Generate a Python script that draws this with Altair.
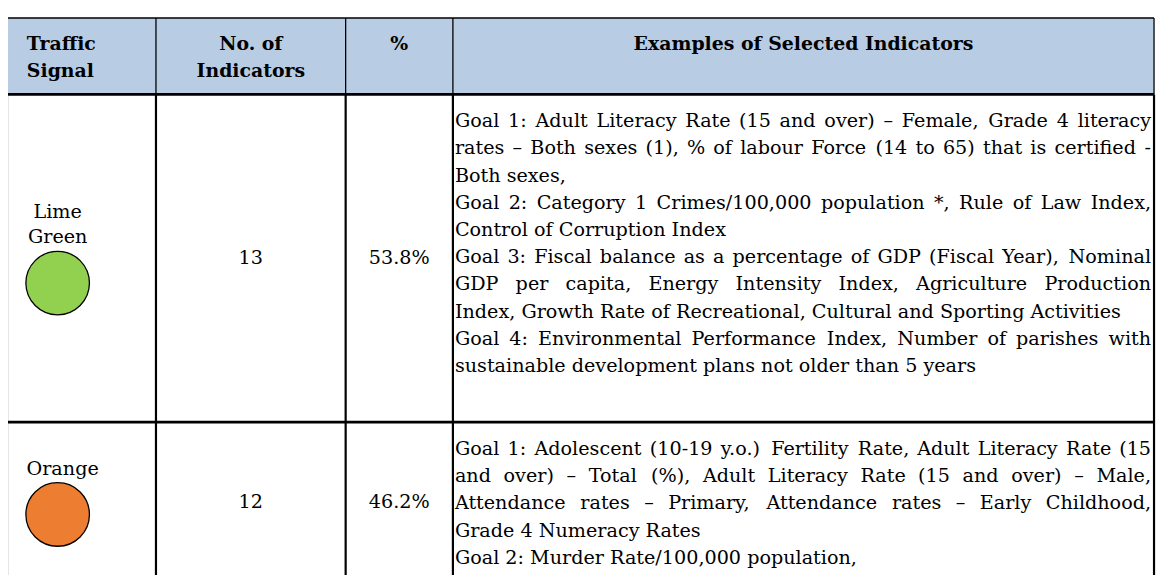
import altair as alt
import pandas as pd

# ---------------- data ----------------
header_lines = [["Traffic", "Signal"], ["No. of", "Indicators"], ["%"], ["Examples of Selected Indicators"]]
header_align = ["left", "center", "center", "center"]

signal_names = ["Lime Green", "Orange"]
signal_label_lines = [["Lime", "Green"], ["Orange"]]
signal_colors = ["#92D050", "#ED7D31"]
indicator_counts = [13, 12]
indicator_pct = [53.8, 46.2]

examples_lines = [
    [
        "Goal 1: Adult Literacy Rate (15 and over) – Female, Grade 4 literacy",
        "rates – Both sexes (1), % of labour Force (14 to 65) that is certified -",
        "Both sexes,",
        "Goal 2: Category 1 Crimes/100,000 population *, Rule of Law Index,",
        "Control of Corruption Index",
        "Goal 3: Fiscal balance as a percentage of GDP (Fiscal Year), Nominal",
        "GDP per capita, Energy Intensity Index, Agriculture Production",
        "Index, Growth Rate of Recreational, Cultural and Sporting Activities",
        "Goal 4: Environmental Performance Index, Number of parishes with",
        "sustainable development plans not older than 5 years",
    ],
    [
        "Goal 1: Adolescent (10-19 y.o.) Fertility Rate, Adult Literacy Rate (15",
        "and over) – Total (%), Adult Literacy Rate (15 and over) – Male,",
        "Attendance rates – Primary, Attendance rates – Early Childhood,",
        "Grade 4 Numeracy Rates",
        "Goal 2: Murder Rate/100,000 population,",
    ],
]
examples_justified = [
    [True, True, False, True, False, True, True, False, True, False],
    [True, True, True, False, False],
]

# ---------------- layout ----------------
X_EDGES = [7, 157, 348, 456, 1162]
Y_TOP, Y_HEAD = 16, 93
ROW_EDGES = [93, 423, 585]
VIEW_BOTTOM = 577
FONT = "DejaVu Serif"
FS = 19.3
HFS = 19
LH = 27.4
TEXT_X0, TEXT_X1 = 458, 1159
HEADER_BG = "#B8CCE4"

CW = {' ': .318, 'a': .596, 'b': .640, 'c': .560, 'd': .640, 'e': .592, 'f': .370, 'g': .640,
      'h': .644, 'i': .320, 'j': .310, 'k': .606, 'l': .320, 'm': .948, 'n': .644, 'o': .602,
      'p': .640, 'q': .640, 'r': .478, 's': .513, 't': .402, 'u': .644, 'v': .565, 'w': .856,
      'x': .564, 'y': .565, 'z': .527, 'A': .722, 'B': .735, 'C': .765, 'D': .802, 'E': .730,
      'F': .694, 'G': .799, 'H': .872, 'I': .395, 'J': .401, 'K': .747, 'L': .664, 'M': 1.024,
      'N': .875, 'O': .820, 'P': .673, 'Q': .820, 'R': .753, 'S': .685, 'T': .667, 'U': .843,
      'V': .722, 'W': 1.028, 'X': .712, 'Y': .660, 'Z': .695, '(': .390, ')': .390, ',': .318,
      '.': .318, ':': .337, ';': .337, '-': .338, '/': .337, '%': .950, '*': .500, '–': .500}
for d in "0123456789":
    CW[d] = .636


def word_w(w):
    return sum(CW.get(c, .6) for c in w) * FS


# rect (header background)
bg = pd.DataFrame([{"x": X_EDGES[0], "x2": X_EDGES[-1], "y": Y_TOP, "y2": Y_HEAD, "c": HEADER_BG}])

# rules
rules = []
rules.append({"x": X_EDGES[0], "x2": X_EDGES[-1], "y": Y_TOP, "y2": Y_TOP, "w": 1.5})
for yy in ROW_EDGES[:-1]:
    rules.append({"x": X_EDGES[0], "x2": X_EDGES[-1], "y": yy, "y2": yy, "w": 2.6})
for xx in X_EDGES:
    rules.append({"x": xx, "x2": xx, "y": Y_TOP, "y2": Y_HEAD, "w": 1.3})
    rules.append({"x": xx, "x2": xx, "y": Y_HEAD, "y2": VIEW_BOTTOM, "w": 2.2})
rules = pd.DataFrame(rules)

# header text
htxt = []
for ci, lines in enumerate(header_lines):
    a = header_align[ci]
    x = X_EDGES[ci] + 20 if a == "left" else (X_EDGES[ci] + X_EDGES[ci + 1]) / 2
    for li, t in enumerate(lines):
        htxt.append({"x": x, "y": 42 + li * 28, "t": t, "a": a})
htxt = pd.DataFrame(htxt)

# body: signals, numbers
body_left, body_center = [], []
circles = []
for r in range(len(signal_names)):
    top, bot = ROW_EDGES[r], ROW_EDGES[r + 1]
    mid = (top + bot) / 2
    labels = signal_label_lines[r]
    n = len(labels)
    cy = mid + ((n - 1) * 26 + 24) / 2
    cx = 58
    circles.append({"x": cx, "y": cy, "c": signal_colors[r]})
    for li, t in enumerate(labels):
        body_center.append({"x": cx + (0 if n > 1 else 5), "y": cy - 46 - (n - 1 - li) * 26, "t": t})
    body_center.append({"x": (X_EDGES[1] + X_EDGES[2]) / 2, "y": mid, "t": str(indicator_counts[r])})
    body_center.append({"x": (X_EDGES[2] + X_EDGES[3]) / 2, "y": mid, "t": f"{indicator_pct[r]:.1f}%"})

body_right = []
for r in range(len(examples_lines)):
    y0 = ROW_EDGES[r] + 27
    for li, (line, just) in enumerate(zip(examples_lines[r], examples_justified[r])):
        y = y0 + li * LH
        words = line.split(" ")
        if not just or len(words) < 2:
            body_left.append({"x": TEXT_X0, "y": y, "t": line})
            continue
        widths = [word_w(w) for w in words]
        gap = (TEXT_X1 - TEXT_X0 - sum(widths)) / (len(words) - 1)
        x = TEXT_X0
        for wi, (w, wd) in enumerate(zip(words, widths)):
            if wi == len(words) - 1:
                body_right.append({"x": TEXT_X1, "y": y, "t": w})
            else:
                body_left.append({"x": x, "y": y, "t": w})
            x += wd + gap

body_left = pd.DataFrame(body_left)
body_center = pd.DataFrame(body_center)
body_right = pd.DataFrame(body_right)
circles = pd.DataFrame(circles)

XS = alt.Scale(domain=[8, 1166], nice=False, zero=False)
YS = alt.Scale(domain=[8, 577], nice=False, zero=False, reverse=True)


def X(f="x"):
    return alt.X(f"{f}:Q", scale=XS, axis=None)


def Y(f="y"):
    return alt.Y(f"{f}:Q", scale=YS, axis=None)


bg_layer = alt.Chart(bg).mark_rect(clip=True).encode(
    x=X(), x2="x2:Q", y=Y(), y2="y2:Q", color=alt.Color("c:N", scale=None))

rule_layer = alt.Chart(rules).mark_rule(color="black", clip=True).encode(
    x=X(), x2="x2:Q", y=Y(), y2="y2:Q", strokeWidth=alt.StrokeWidth("w:Q", scale=None))

head_left = alt.Chart(htxt[htxt.a == "left"]).mark_text(
    font=FONT, fontSize=HFS, fontWeight="bold", align="left", baseline="middle", color="black"
).encode(x=X(), y=Y(), text="t:N")
head_center = alt.Chart(htxt[htxt.a == "center"]).mark_text(
    font=FONT, fontSize=HFS, fontWeight="bold", align="center", baseline="middle", color="black"
).encode(x=X(), y=Y(), text="t:N")

circle_layer = alt.Chart(circles).mark_point(
    shape="circle", filled=True, size=64 * 64, stroke="black", strokeWidth=1.3, opacity=1
).encode(x=X(), y=Y(), fill=alt.Fill("c:N", scale=None))

t_left = alt.Chart(body_left).mark_text(
    font=FONT, fontSize=FS, align="left", baseline="middle", color="black", clip=True
).encode(x=X(), y=Y(), text="t:N")
t_center = alt.Chart(body_center).mark_text(
    font=FONT, fontSize=FS, align="center", baseline="middle", color="black"
).encode(x=X(), y=Y(), text="t:N")
t_right = alt.Chart(body_right).mark_text(
    font=FONT, fontSize=FS, align="right", baseline="middle", color="black", clip=True
).encode(x=X(), y=Y(), text="t:N")

chart = alt.layer(
    bg_layer, rule_layer, head_left, head_center, circle_layer, t_left, t_center, t_right
).properties(width=1158, height=569, padding=0, autosize="none").configure_view(stroke=None)

chart.save("out.html", embed_options={"renderer": "svg", "actions": False})
